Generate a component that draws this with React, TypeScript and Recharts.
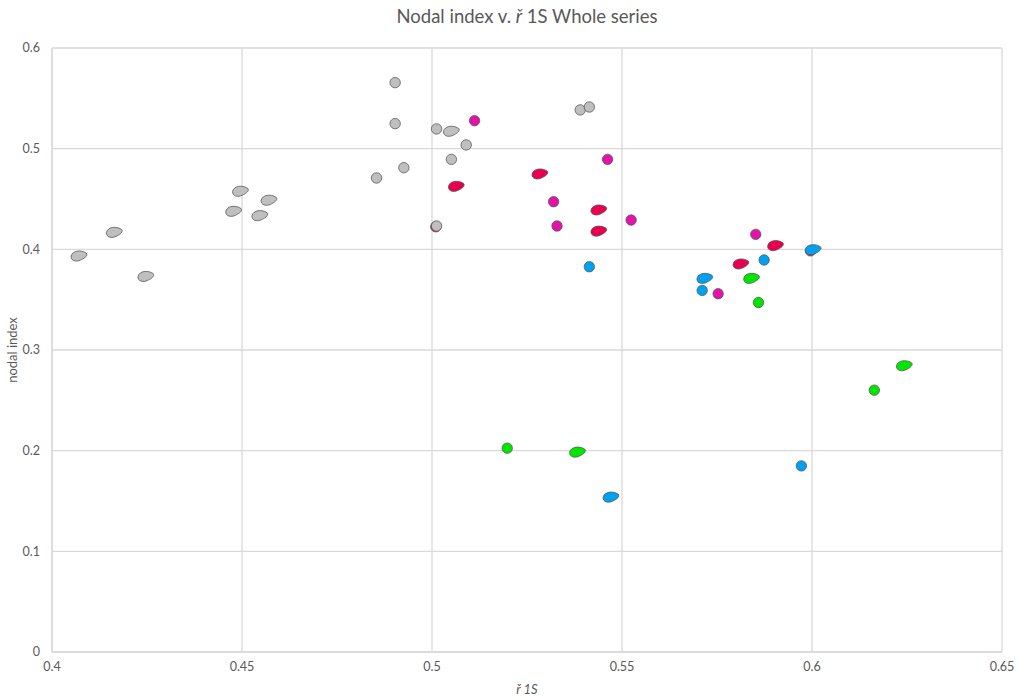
import React from 'react';
import { ScatterChart, Scatter, XAxis, YAxis, CartesianGrid, Label } from 'recharts';

// Values (x = ř 1S, y = nodal index)
const grayDots = [
  { x: 0.4903, y: 0.5656 }, { x: 0.4903, y: 0.5249 }, { x: 0.5012, y: 0.5196 },
  { x: 0.509, y: 0.5037 }, { x: 0.5051, y: 0.4894 }, { x: 0.4926, y: 0.4811 },
  { x: 0.4854, y: 0.4709 }, { x: 0.5012, y: 0.4232 }, { x: 0.539, y: 0.5385 },
  { x: 0.5414, y: 0.5414 },
];
const grayBlobs = [
  { x: 0.4495, y: 0.4576 }, { x: 0.457, y: 0.4487 }, { x: 0.4477, y: 0.4377 },
  { x: 0.4546, y: 0.4334 }, { x: 0.4163, y: 0.4168 }, { x: 0.407, y: 0.3933 },
  { x: 0.4246, y: 0.373 }, { x: 0.505, y: 0.5172 },
];
const magentaDots = [
  { x: 0.5112, y: 0.5278 }, { x: 0.5462, y: 0.4894 }, { x: 0.532, y: 0.4473 },
  { x: 0.5329, y: 0.4232 }, { x: 0.5524, y: 0.4291 }, { x: 0.5852, y: 0.4149 },
  { x: 0.5753, y: 0.3559 }, { x: 0.5996, y: 0.3985 },
];
const crimsonDots = [{ x: 0.501, y: 0.4224 }];
const crimsonBlobs = [
  { x: 0.5063, y: 0.4625 }, { x: 0.5283, y: 0.4748 }, { x: 0.5438, y: 0.439 },
  { x: 0.5438, y: 0.418 }, { x: 0.5903, y: 0.4036 }, { x: 0.5812, y: 0.3854 },
];
const blueDots = [
  { x: 0.5414, y: 0.3827 }, { x: 0.5874, y: 0.3894 }, { x: 0.5711, y: 0.3592 },
  { x: 0.5972, y: 0.1849 },
];
const blueBlobs = [
  { x: 0.5717, y: 0.3711 }, { x: 0.6002, y: 0.3996 }, { x: 0.547, y: 0.1538 },
];
const greenDots = [
  { x: 0.5859, y: 0.3472 }, { x: 0.5198, y: 0.2025 }, { x: 0.6164, y: 0.2601 },
];
const greenBlobs = [
  { x: 0.584, y: 0.3711 }, { x: 0.5382, y: 0.1985 }, { x: 0.6242, y: 0.2843 },
];

const xTicks = [0.4, 0.45, 0.5, 0.55, 0.6, 0.65];
const yTicks = [0, 0.1, 0.2, 0.3, 0.4, 0.5, 0.6];

const GRAY = '#bfbfbf';
const MAGENTA = '#e312a9';
const CRIMSON = '#e8004e';
const BLUE = '#00a2f0';
const GREEN = '#00e600';
const FONT = 'Lato, "Open Sans", sans-serif';

const dot = (fill: string) => (props: any) => (
  <circle cx={props.cx} cy={props.cy} r={5.2} fill={fill} stroke="#595959" strokeWidth={0.8} />
);

// egg / teardrop marker: round on the left, blunt point to the upper right
const blob = (fill: string) => (props: any) => {
  const { cx, cy } = props;
  const d = `M ${cx + 6.5} ${cy - 3.6}
    C ${cx + 2.5} ${cy - 6} ${cx - 6} ${cy - 6} ${cx - 7.5} ${cy}
    C ${cx - 8} ${cy + 5} ${cx - 2} ${cy + 6} ${cx + 2} ${cy + 4}
    C ${cx + 5} ${cy + 2.5} ${cx + 8.6} ${cy + 0.5} ${cx + 8.2} ${cy - 2}
    C ${cx + 8} ${cy - 3} ${cx + 7.3} ${cy - 3.3} ${cx + 6.5} ${cy - 3.6} Z`;
  return <path d={d} fill={fill} stroke="#595959" strokeWidth={0.8} />;
};

const tickStyle = { fill: '#595959', fontSize: 12.5, fontFamily: FONT };

const App = () => {
  return (
    <div style={{ position: 'absolute', left: 0, top: 0, width: 1019, height: 699, background: '#fff' }}>
      <div
        style={{
          position: 'absolute', top: 5, left: 0, width: 1054, textAlign: 'center',
          fontFamily: FONT, fontSize: 18.5, color: '#595959',
        }}
      >
        Nodal index v. <i>ř</i> 1S Whole series
      </div>
      <ScatterChart width={1019} height={699} margin={{ top: 48, right: 17, left: 0, bottom: 17 }}>
        <CartesianGrid stroke="#d9d9d9" strokeWidth={1.3} />
        <XAxis
          type="number"
          dataKey="x"
          domain={[0.4, 0.65]}
          ticks={xTicks}
          interval={0}
          allowDataOverflow
          height={30}
          stroke="#d9d9d9"
          strokeWidth={1.3}
          tickLine={false}
          tickSize={0}
          tickMargin={10}
          tick={tickStyle}
        >
          <Label
            value="ř 1S"
            position="insideBottom"
            offset={-12}
            style={{ fill: '#595959', fontSize: 13, fontFamily: FONT, fontStyle: 'italic' }}
          />
        </XAxis>
        <YAxis
          type="number"
          dataKey="y"
          domain={[0, 0.6]}
          ticks={yTicks}
          interval={0}
          allowDataOverflow
          width={52}
          stroke="#d9d9d9"
          strokeWidth={1.3}
          tickLine={false}
          tickSize={0}
          tickMargin={12}
          tick={tickStyle}
        >
          <Label
            value="nodal index"
            angle={-90}
            position="insideLeft"
            offset={12}
            style={{ fill: '#595959', fontSize: 13, fontFamily: FONT, textAnchor: 'middle' }}
          />
        </YAxis>
        <Scatter data={magentaDots} shape={dot(MAGENTA)} isAnimationActive={false} />
        <Scatter data={crimsonDots} shape={dot(CRIMSON)} isAnimationActive={false} />
        <Scatter data={crimsonBlobs} shape={blob(CRIMSON)} isAnimationActive={false} />
        <Scatter data={greenDots} shape={dot(GREEN)} isAnimationActive={false} />
        <Scatter data={greenBlobs} shape={blob(GREEN)} isAnimationActive={false} />
        <Scatter data={blueDots} shape={dot(BLUE)} isAnimationActive={false} />
        <Scatter data={blueBlobs} shape={blob(BLUE)} isAnimationActive={false} />
        <Scatter data={grayDots} shape={dot(GRAY)} isAnimationActive={false} />
        <Scatter data={grayBlobs} shape={blob(GRAY)} isAnimationActive={false} />
      </ScatterChart>
    </div>
  );
};

export default App;
